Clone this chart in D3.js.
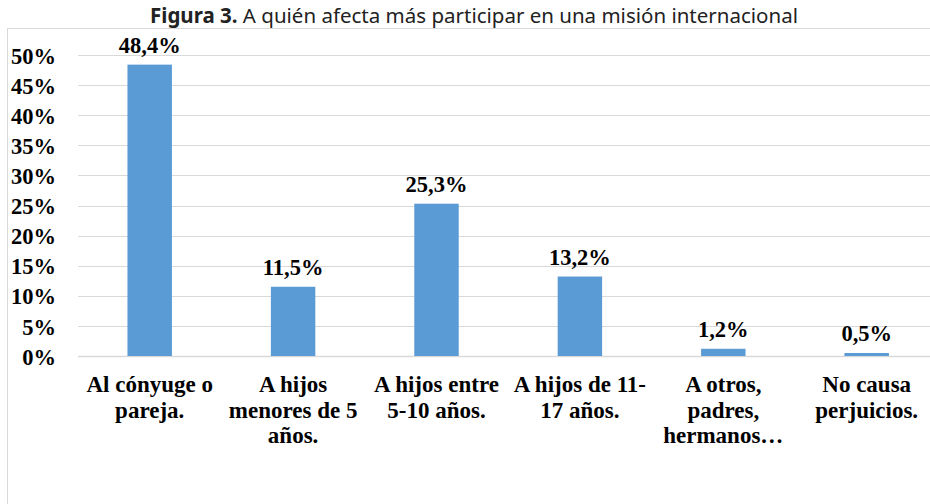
<!DOCTYPE html>
<html>
<head>
<meta charset="utf-8">
<script src="https://cdn.jsdelivr.net/npm/d3@7"></script>
<style>
  body { margin: 0; background: #fff; }
  svg { display: block; }
</style>
</head>
<body>
<svg class="chart" width="930" height="504"></svg>
<script>
// data
var categories = [
  "Al cónyuge o\npareja.",
  "A hijos\nmenores de 5\naños.",
  "A hijos entre\n5-10 años.",
  "A hijos de 11-\n17 años.",
  "A otros,\npadres,\nhermanos…",
  "No causa\nperjuicios."
];
var values = [48.4, 11.5, 25.3, 13.2, 1.2, 0.5];
var yTicks = [0, 5, 10, 15, 20, 25, 30, 35, 40, 45, 50];

var svg = d3.select('.chart');
var plotLeft = 78, plotTop = 55, plotBottom = 356;
var plotRight = plotLeft + 143.4 * categories.length;

var serif = '"Liberation Serif", "Times New Roman", serif';

// title
var title = svg.append('text')
  .attr('x', 474)
  .attr('y', 23)
  .attr('text-anchor', 'middle')
  .style('font-family', '"Noto Sans", sans-serif')
  .style('font-size', '20.5px')
  .attr('fill', '#222');
title.append('tspan').style('font-weight', 'bold').text('Figura 3.');
title.append('tspan').text(' A quién afecta más participar en una misión internacional');

// chart frame
svg.append('rect')
  .attr('x', 7.5)
  .attr('y', 28.5)
  .attr('width', 940)
  .attr('height', 500)
  .attr('fill', 'none')
  .attr('stroke', '#d9d9d9');

var x = d3.scaleBand()
  .domain(categories)
  .range([plotLeft, plotRight])
  .paddingInner(0.69)
  .paddingOuter(0.345);

var y = d3.scaleLinear()
  .domain([0, 50])
  .range([plotBottom, plotTop]);

// gridlines
svg.selectAll('.grid')
  .data(yTicks)
  .enter()
  .append('line')
  .attr('class', 'grid')
  .attr('x1', plotLeft)
  .attr('x2', plotRight)
  .attr('y1', function (d) { return Math.round(y(d)) + 0.5; })
  .attr('y2', function (d) { return Math.round(y(d)) + 0.5; })
  .attr('stroke', '#d9d9d9')
  .attr('stroke-width', function (d) { return d === 0 ? 1.5 : 1; });

// y axis labels
var yAxis = d3.axisLeft(y)
  .tickValues(yTicks)
  .tickSize(0)
  .tickPadding(22)
  .tickFormat(function (d) { return d + '%'; });

var ya = svg.append('g')
  .attr('transform', 'translate(' + plotLeft + ',0)')
  .call(yAxis);
ya.select('.domain').remove();
ya.selectAll('text')
  .attr('dy', '0.36em')
  .style('font-family', serif)
  .style('font-size', '22.5px')
  .style('font-weight', 'bold')
  .attr('fill', '#000');

// bars
svg.selectAll('.bar')
  .data(values)
  .enter()
  .append('rect')
  .attr('class', 'bar')
  .attr('x', function (d, i) { return x(categories[i]); })
  .attr('y', function (d) { return y(d); })
  .attr('width', x.bandwidth())
  .attr('height', function (d) { return plotBottom - y(d); })
  .attr('fill', '#5b9bd5');

// value labels
svg.selectAll('.val')
  .data(values)
  .enter()
  .append('text')
  .attr('class', 'val')
  .attr('x', function (d, i) { return x(categories[i]) + x.bandwidth() / 2; })
  .attr('y', function (d) { return y(d) - 12; })
  .attr('text-anchor', 'middle')
  .style('font-family', serif)
  .style('font-size', '22.5px')
  .style('font-weight', 'bold')
  .attr('fill', '#000')
  .text(function (d) { return d.toFixed(1).replace('.', ',') + '%'; });

// category labels
var cat = svg.selectAll('.cat')
  .data(categories)
  .enter()
  .append('text')
  .attr('class', 'cat')
  .attr('text-anchor', 'middle')
  .style('font-family', serif)
  .style('font-size', '23px')
  .style('font-weight', 'bold')
  .attr('fill', '#000');

cat.each(function (c) {
  var t = d3.select(this);
  var cx = x(c) + x.bandwidth() / 2;
  c.split('\n').forEach(function (line, k) {
    t.append('tspan')
      .attr('x', cx)
      .attr('y', 392 + k * 25.5)
      .text(line);
  });
});
</script>
</body>
</html>
